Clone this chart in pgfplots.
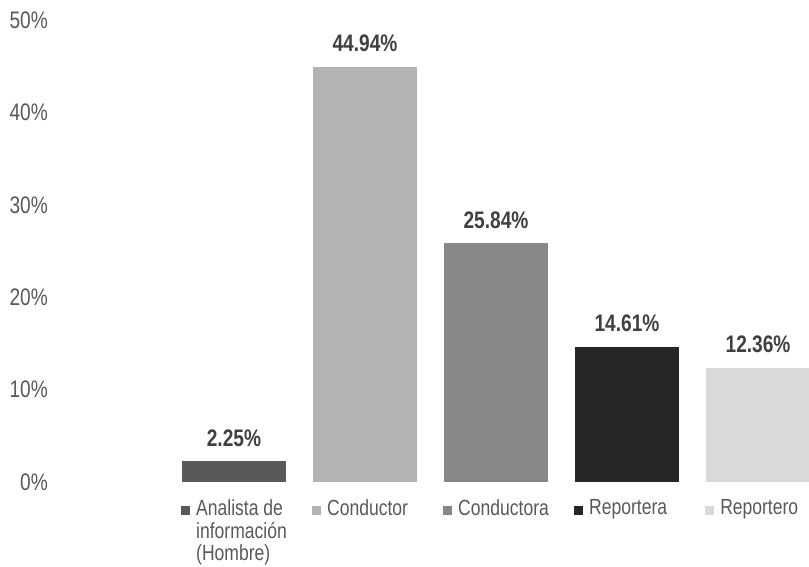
\documentclass[border=0pt]{standalone}
\usepackage{pgfplots}
\pgfplotsset{compat=1.18}
\usepackage{fontspec}
\setmainfont{Liberation Sans}[FakeStretch=0.8]
\definecolor{cA}{HTML}{595959}
\definecolor{cB}{HTML}{B3B3B3}
\definecolor{cC}{HTML}{878787}
\definecolor{cD}{HTML}{262626}
\definecolor{cE}{HTML}{D9D9D9}
\definecolor{txt}{HTML}{595959}
\newcommand{\sq}[1]{\textcolor{#1}{\rule{9bp}{9bp}}\hspace{6bp}}
\begin{document}
\begin{tikzpicture}[x=1bp,y=1bp]
  \useasboundingbox (0,0) rectangle (809,567);
  \begin{axis}[
    at={(55bp,85bp)}, anchor=south west,
    scale only axis,
    width=754bp, height=462bp,
    ymin=0, ymax=50,
    xmin=-1.366, xmax=4.389,
    ybar, bar shift=0pt, bar width=0.794,
    axis line style={draw=none},
    tick style={draw=none},
    ytick={0,10,20,30,40,50},
    yticklabels={0\%,10\%,20\%,30\%,40\%,50\%},
    yticklabel style={font=\fontsize{24}{28}\selectfont, text=txt, anchor=east, inner sep=0pt, xshift=-7bp},
    xtick={0,1,2,3,4},
    xticklabels={
      \sq{cA}\begin{tabular}[t]{@{}l@{}}Analista de\\información\\(Hombre)\end{tabular},
      \sq{cB}Conductor,
      \sq{cC}Conductora,
      \sq{cD}Reportera,
      \sq{cE}Reportero},
    xticklabel style={font=\fontsize{22}{22.5}\selectfont, text=txt, anchor=north west, xshift=-53bp, yshift=-13bp, inner sep=0pt},
    /pgf/number format/assume math mode=true,
    nodes near coords={\pgfmathprintnumber[fixed,fixed zerofill,precision=2]{\pgfplotspointmeta}\%},
    every node near coord/.append style={font=\bfseries\fontsize{24}{28}\selectfont, text=black!75, anchor=base, inner sep=0pt, yshift=15bp},
  ]
    \addplot[fill=cA, draw=none] coordinates {(0,2.25)};
    \addplot[fill=cB, draw=none] coordinates {(1,44.94)};
    \addplot[fill=cC, draw=none] coordinates {(2,25.84)};
    \addplot[fill=cD, draw=none] coordinates {(3,14.61)};
    \addplot[fill=cE, draw=none] coordinates {(4,12.36)};
  \end{axis}
\end{tikzpicture}
\end{document}
